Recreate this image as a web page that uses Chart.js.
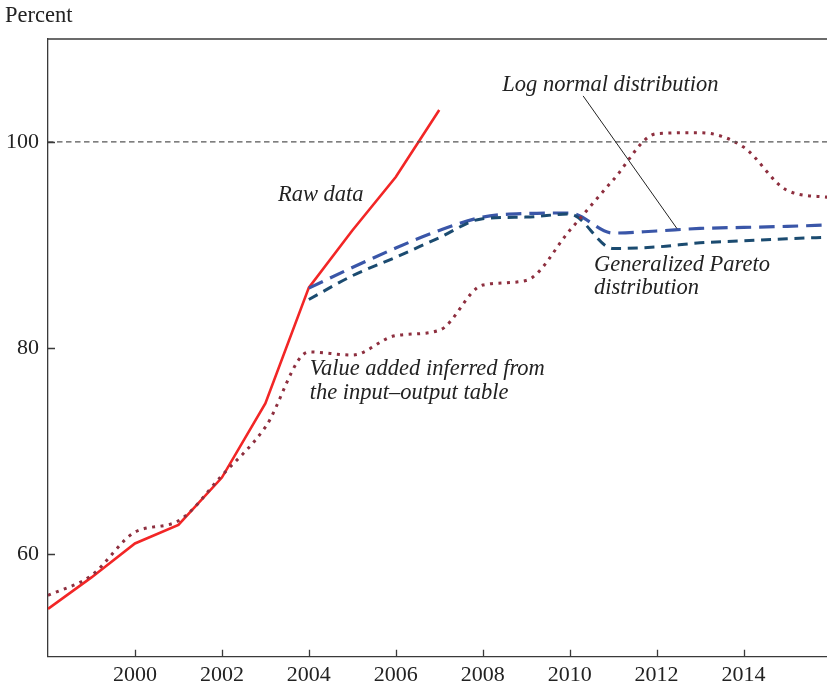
<!DOCTYPE html>
<html>
<head>
<meta charset="utf-8">
<script src="https://cdn.jsdelivr.net/npm/chart.js@4.4.0/dist/chart.umd.min.js"></script>
<style>
  html, body { margin: 0; padding: 0; background: #fff; }
  #wrap { width: 827px; height: 686px; position: relative; }
</style>
</head>
<body>
<div id="wrap"><canvas id="chart"></canvas></div>
<script>
// data
const rawYears = [1998, 1999, 2000, 2001, 2002, 2003, 2004, 2005, 2006, 2007];
const rawData = [54.65, 57.7, 61.0, 62.8, 67.4, 74.6, 85.85, 91.4, 96.6, 103.1];

const ioYears = [1998, 1999, 2000, 2001, 2002, 2003, 2004, 2005, 2006, 2007, 2008, 2009, 2010, 2011, 2012, 2013, 2014, 2015, 2016];
const valueAdded = [55.95, 57.9, 62.1, 63.2, 67.6, 72.3, 79.6, 79.3, 81.2, 81.7, 86.1, 86.55, 91.4, 96.3, 100.8, 100.9, 99.5, 95.3, 94.6];

const distYears = [2004, 2005, 2006, 2007, 2008, 2009, 2010, 2011, 2012, 2013, 2014, 2015, 2016];
const logNormal = [85.8, 87.8, 89.7, 91.4, 92.7, 93.05, 93.1, 91.15, 91.35, 91.6, 91.7, 91.8, 91.95];
const pareto = [84.7, 87.0, 88.8, 90.7, 92.55, 92.7, 93.0, 89.65, 89.8, 90.2, 90.4, 90.6, 90.75];

const xTicks = [2000, 2002, 2004, 2006, 2008, 2010, 2012, 2014];
const yTicks = [60, 80, 100];
const xMin = 1998, xMax = 2015.92;
const yMin = 50, yMax = 110;
const refLevel = 100;

// labels placed in data units
const notes = [
  { text: 'Raw data', x: 2003.29, y: 94.27 },
  { text: 'Value added inferred from', x: 2004.02, y: 77.33 },
  { text: 'the input\u2013output table', x: 2004.02, y: 75.0 },
  { text: 'Log normal distribution', x: 2008.45, y: 104.96 },
  { text: 'Generalized Pareto', x: 2010.56, y: 87.46 },
  { text: 'distribution', x: 2010.56, y: 85.27 }
];
const leader = [[2010.31, 104.47], [2012.47, 91.58]];

const pts = (xs, ys) => xs.map((x, i) => ({ x: x, y: ys[i] }));

const serif = "'Liberation Serif', 'DejaVu Serif', serif";
const axisColor = '#3a3a3a';

const decor = {
  id: 'decor',
  afterDraw(chart) {
    const { ctx, chartArea: a, scales: { x, y } } = chart;
    ctx.save();
    ctx.strokeStyle = axisColor;
    ctx.lineWidth = 1.3;
    // top frame line
    ctx.beginPath();
    ctx.moveTo(a.left, a.top);
    ctx.lineTo(a.right, a.top);
    ctx.stroke();
    // inward ticks
    ctx.beginPath();
    xTicks.forEach(v => {
      const px = Math.round(x.getPixelForValue(v)) + 0.5;
      ctx.moveTo(px, a.bottom);
      ctx.lineTo(px, a.bottom - 7);
    });
    yTicks.forEach(v => {
      const py = Math.round(y.getPixelForValue(v)) + 0.5;
      ctx.moveTo(a.left, py);
      ctx.lineTo(a.left + 7, py);
    });
    ctx.stroke();

    // leader line
    ctx.strokeStyle = '#222';
    ctx.lineWidth = 1;
    ctx.beginPath();
    ctx.moveTo(x.getPixelForValue(leader[0][0]), y.getPixelForValue(leader[0][1]));
    ctx.lineTo(x.getPixelForValue(leader[1][0]), y.getPixelForValue(leader[1][1]));
    ctx.stroke();

    ctx.fillStyle = '#222';
    ctx.textBaseline = 'alphabetic';
    ctx.textAlign = 'left';
    ctx.font = 'italic 22.5px ' + serif;
    notes.forEach(n => {
      ctx.fillText(n.text, x.getPixelForValue(n.x), y.getPixelForValue(n.y));
    });

    ctx.font = '22.5px ' + serif;
    ctx.fillText('Percent', 5, 22);
    ctx.restore();
  }
};

new Chart(document.getElementById('chart'), {
  type: 'line',
  data: {
    datasets: [
      {
        label: 'Reference 100',
        data: [{ x: xMin, y: refLevel }, { x: xMax, y: refLevel }],
        borderColor: '#555',
        borderWidth: 1.3,
        borderDash: [5.5, 3.5],
        pointRadius: 0,
        tension: 0
      },
      {
        label: 'Value added inferred from the input-output table',
        data: pts(ioYears, valueAdded),
        borderColor: '#8e2f3f',
        borderWidth: 3,
        borderDash: [3, 5.5],
        pointRadius: 0,
        cubicInterpolationMode: 'monotone'
      },
      {
        label: 'Generalized Pareto distribution',
        data: pts(distYears, pareto),
        borderColor: '#1b4b70',
        borderWidth: 3,
        borderDash: [10, 6.7],
        pointRadius: 0,
        cubicInterpolationMode: 'monotone'
      },
      {
        label: 'Log normal distribution',
        data: pts(distYears, logNormal),
        borderColor: '#3a56a8',
        borderWidth: 3.2,
        borderDash: [15.5, 8],
        pointRadius: 0,
        cubicInterpolationMode: 'monotone'
      },
      {
        label: 'Raw data',
        data: pts(rawYears, rawData),
        borderColor: '#f22626',
        borderWidth: 2.6,
        pointRadius: 0,
        tension: 0
      }
    ]
  },
  options: {
    responsive: true,
    maintainAspectRatio: false,
    animation: false,
    layout: { padding: { top: 39, right: 0, left: 0, bottom: 0 } },
    plugins: {
      legend: { display: false },
      tooltip: { enabled: false }
    },
    scales: {
      x: {
        type: 'linear',
        min: xMin,
        max: xMax,
        afterBuildTicks: s => { s.ticks = xTicks.map(v => ({ value: v })); },
        afterFit: s => { s.height = 29.3; },
        grid: { display: false, drawTicks: false },
        border: { display: true, color: axisColor, width: 1.3 },
        ticks: {
          color: '#222',
          font: { family: serif, size: 22 },
          padding: 5,
          maxRotation: 0,
          autoSkip: false,
          callback: v => String(v)
        }
      },
      y: {
        min: yMin,
        max: yMax,
        afterBuildTicks: s => { s.ticks = yTicks.map(v => ({ value: v })); },
        afterFit: s => { s.width = 48; },
        grid: { display: false, drawTicks: false },
        border: { display: true, color: axisColor, width: 1.3 },
        ticks: {
          color: '#222',
          font: { family: serif, size: 22 },
          padding: 9,
          callback: v => String(v)
        }
      }
    }
  },
  plugins: [decor]
});
</script>
</body>
</html>
